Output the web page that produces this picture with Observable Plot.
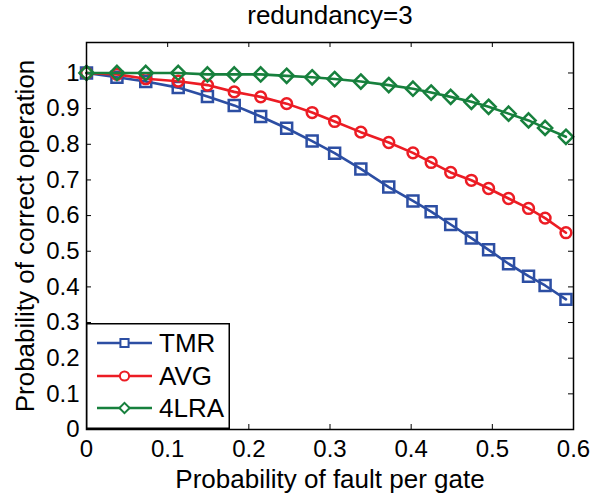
<!DOCTYPE html>
<html>
<head>
<meta charset="utf-8">
<script src="https://cdn.jsdelivr.net/npm/d3@7"></script>
<script src="https://cdn.jsdelivr.net/npm/@observablehq/plot@0.6"></script>
<style>
  html, body { margin: 0; padding: 0; background: #fff; }
  #wrap { position: relative; width: 600px; height: 495px; font-family: "Liberation Sans", Arial, sans-serif; }
  #legend { position: absolute; left: 86px; top: 323px; }
</style>
</head>
<body>
<div id="wrap"></div>
<script>
// ---- data ----
const faultProb = [0, 0.0375, 0.073, 0.113, 0.149, 0.182, 0.2146, 0.2466, 0.278, 0.3057, 0.338,
                   0.3724, 0.4022, 0.4246, 0.4487, 0.4742, 0.4954, 0.52, 0.5446, 0.565, 0.5907];
const tmrValues = [1.0, 0.988, 0.976, 0.959, 0.934, 0.909, 0.878, 0.845, 0.809, 0.775, 0.731,
                   0.680, 0.641, 0.611, 0.575, 0.537, 0.504, 0.465, 0.430, 0.404, 0.365];
const avgValues = [1.0, 0.996, 0.984, 0.977, 0.966, 0.947, 0.933, 0.914, 0.889, 0.864, 0.834,
                   0.805, 0.776, 0.749, 0.721, 0.699, 0.676, 0.648, 0.620, 0.593, 0.552];
const lraValues = [1.0, 1.0, 1.0, 1.0, 0.996, 0.996, 0.996, 0.992, 0.988, 0.983, 0.976,
                   0.966, 0.956, 0.945, 0.933, 0.919, 0.905, 0.886, 0.867, 0.846, 0.821];
const seriesNames = ["TMR", "AVG", "4LRA"];
const seriesColors = ["#2c4ea3", "#ec1c24", "#17803d"];
const seriesSymbols = ["square", "circle", "diamond2"];
const markerRadius = [6.2, 5.4, 6.4];
const xTicks = [0, 0.1, 0.2, 0.3, 0.4, 0.5, 0.6];
const yTicks = [0, 0.1, 0.2, 0.3, 0.4, 0.5, 0.6, 0.7, 0.8, 0.9, 1];
const titleText = "redundancy=3";
const xLabel = "Probability of fault per gate";
const yLabel = "Probability of correct operation";

// ---- build table ----
const valuesBySeries = [tmrValues, avgValues, lraValues];
const data = seriesNames.flatMap((s, i) =>
  faultProb.map((p, j) => ({series: s, p, v: valuesBySeries[i][j]})));

const W = 600, H = 495, mL = 86, mR = 27, mT = 42, mB = 66;
const frameW = W - mL - mR, frameH = H - mT - mB;
const tickLen = 5;
const fmt = d => String(+d.toFixed(1));

const seriesMarks = seriesNames.flatMap((s, i) => [
  Plot.line(data.filter(d => d.series === s), {x: "p", y: "v", stroke: "series", strokeWidth: 2.6}),
  Plot.dot(data.filter(d => d.series === s), {x: "p", y: "v", stroke: "series", symbol: "series",
    r: markerRadius[i], strokeWidth: 2.5, fill: "none"})
]);

const chart = Plot.plot({
  width: W, height: H,
  marginLeft: mL, marginRight: mR, marginTop: mT, marginBottom: mB,
  style: {fontFamily: "'Liberation Sans', Arial, sans-serif", fontSize: "24px", color: "black", background: "white"},
  x: {domain: [0, 0.6]},
  y: {domain: [0, 1.0855]},
  color: {domain: seriesNames, range: seriesColors},
  symbol: {domain: seriesNames, range: seriesSymbols},
  marks: [
    Plot.axisX(xTicks, {tickSize: 0, tickPadding: 10, tickFormat: fmt, label: null, fill: "black"}),
    Plot.axisY(yTicks, {tickSize: 0, tickPadding: 7, tickFormat: fmt, label: null, fill: "black"}),
    // inward ticks on all four sides
    Plot.tickX(xTicks, {x: d => d, insetTop: frameH - tickLen, stroke: "black", strokeWidth: 1}),
    Plot.tickX(xTicks, {x: d => d, insetBottom: frameH - tickLen, stroke: "black", strokeWidth: 1}),
    Plot.tickY(yTicks, {y: d => d, insetRight: frameW - tickLen, stroke: "black", strokeWidth: 1}),
    Plot.tickY(yTicks, {y: d => d, insetLeft: frameW - tickLen, stroke: "black", strokeWidth: 1}),
    ...seriesMarks,
    Plot.frame({stroke: "black", strokeWidth: 1.5}),
    Plot.text([titleText], {text: d => d, frameAnchor: "top", dy: -27, lineAnchor: "middle", textAnchor: "middle", fontSize: 26, fill: "black"}),
    Plot.text([xLabel], {text: d => d, frameAnchor: "bottom", dy: 50, lineAnchor: "middle", textAnchor: "middle", fontSize: 26, fill: "black"}),
    Plot.text([yLabel], {text: d => d, frameAnchor: "left", dx: -61, dy: 0, rotate: -90, lineAnchor: "middle", textAnchor: "middle", fontSize: 26, fill: "black"})
  ]
});
document.getElementById("wrap").appendChild(chart);

// ---- legend (box inside the axes, lower-left) ----
const lgW = 144, lgH = 106;
const rowY = [20, 53, 85];
const lg = d3.select("#wrap").append("svg")
  .attr("id", "legend").attr("width", lgW).attr("height", lgH);
lg.append("rect").attr("x", 0.75).attr("y", 0.75).attr("width", lgW - 1.5).attr("height", lgH - 1.5)
  .attr("fill", "white").attr("stroke", "black").attr("stroke-width", 1.5);
const symMap = {square: d3.symbolSquare, circle: d3.symbolCircle, diamond2: d3.symbolDiamond2};
seriesNames.forEach((s, i) => {
  const g = lg.append("g").attr("transform", `translate(0,${rowY[i]})`);
  g.append("line").attr("x1", 11).attr("x2", 66).attr("y1", 0).attr("y2", 0)
    .attr("stroke", seriesColors[i]).attr("stroke-width", 2.5);
  g.append("path").attr("transform", "translate(38.5,0)")
    .attr("d", d3.symbol(symMap[seriesSymbols[i]], Math.PI * 4.6 * 4.6)())
    .attr("fill", "white").attr("stroke", seriesColors[i]).attr("stroke-width", 2);
  g.append("text").attr("x", 73).attr("y", 0).attr("dy", "0.35em")
    .attr("font-family", "'Liberation Sans', Arial, sans-serif").attr("font-size", 26)
    .attr("fill", "black").text(s);
});
</script>
</body>
</html>
